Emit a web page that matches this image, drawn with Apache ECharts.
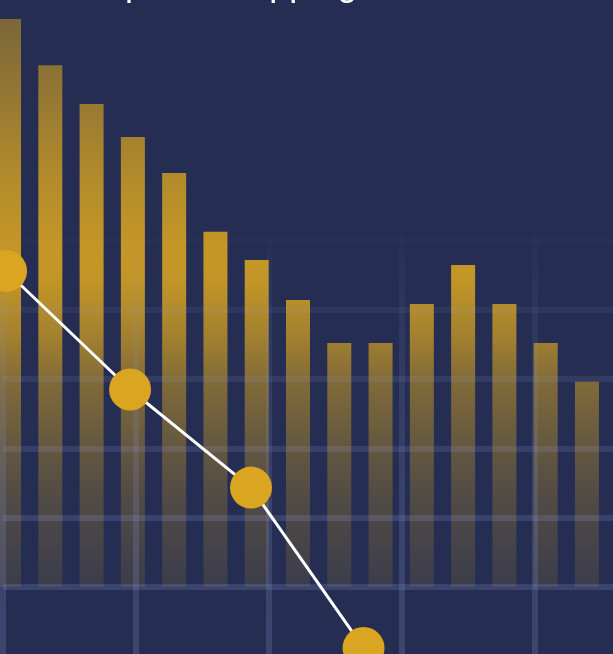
<!DOCTYPE html>
<html>
<head>
<meta charset="utf-8">
<script src="https://cdn.jsdelivr.net/npm/echarts@6/dist/echarts.min.js"></script>
<style>
html,body{margin:0;padding:0;background:#252e52;overflow:hidden;width:613px;height:654px;position:relative;}
#chart{position:absolute;left:-60px;top:-80px;width:760px;height:800px;}
</style>
</head>
<body>
<div id="chart"></div>
<script>
// ---- data ----
var titleText = 'Top 10 Shopping Items';
var categories = ['Item 1','Item 2','Item 3','Item 4','Item 5','Item 6','Item 7','Item 8','Item 9','Item 10','Item 11','Item 12','Item 13','Item 14','Item 15'];
var barValues = [163.9, 150.6, 139.4, 129.9, 119.5, 102.5, 94.4, 82.8, 70.4, 70.4, 81.7, 92.9, 81.7, 70.4, 59.2];
var lineX = [0.23, 9.56, 18.66, 27.13];
var lineY = [91.2, 57.0, 28.7, -17.6];

// canvas is offset by (60, 80) relative to the visible page
var gold = '218,165,32';
function g(a){ return 'rgba(' + gold + ',' + a + ')'; }
var barGradient = new echarts.graphic.LinearGradient(0, 80, 0, 670, [
  {offset: 0.00, color: g(0.42)},
  {offset: 0.035, color: g(0.48)},
  {offset: 0.11, color: g(0.56)},
  {offset: 0.18, color: g(0.64)},
  {offset: 0.30, color: g(0.78)},
  {offset: 0.42, color: g(0.88)},
  {offset: 0.47, color: g(0.87)},
  {offset: 0.52, color: g(0.79)},
  {offset: 0.58, color: g(0.67)},
  {offset: 0.65, color: g(0.50)},
  {offset: 0.75, color: g(0.36)},
  {offset: 0.85, color: g(0.24)},
  {offset: 1.00, color: g(0.12)}
], true);
function p(a){ return 'rgba(140,150,210,' + a + ')'; }
var patternGradient = new echarts.graphic.LinearGradient(0, 80, 0, 734, [
  {offset: 0.00, color: p(0)},
  {offset: 0.34, color: p(0)},
  {offset: 0.47, color: p(0.08)},
  {offset: 0.58, color: p(0.13)},
  {offset: 0.69, color: p(0.17)},
  {offset: 0.80, color: p(0.20)},
  {offset: 1.00, color: p(0.22)}
], true);

var chart = echarts.init(document.getElementById('chart'));
chart.setOption({
  backgroundColor: '#252e52',
  animation: false,
  title: {
    text: titleText,
    left: 142,
    top: 42,
    textStyle: {color: '#ffffff', fontSize: 36, fontWeight: 'normal'}
  },
  grid: [
    {left: 48.4, right: 92.4, top: 43.3, bottom: 133},
    {left: 63, right: 32.5, top: 43.3, bottom: 63.7}
  ],
  xAxis: [
    {type: 'category', gridIndex: 0, data: categories, show: false},
    {type: 'value', gridIndex: 1, min: 0, max: 50, interval: 10, z: 3,
     axisLine: {show: false}, axisTick: {show: false}, axisLabel: {show: false},
     splitLine: {show: true, lineStyle: {width: 6, color: patternGradient}}}
  ],
  yAxis: [
    {type: 'value', gridIndex: 0, min: 0, max: 180, interval: 20, show: false},
    {type: 'value', gridIndex: 1, min: -20, max: 180, interval: 20, z: 3,
     axisLine: {show: false}, axisTick: {show: false}, axisLabel: {show: false},
     splitLine: {show: true, showMinLine: false, lineStyle: {width: 6, color: patternGradient}}}
  ],
  series: [
    {type: 'bar', xAxisIndex: 0, yAxisIndex: 0, data: barValues, barWidth: 24, z: 2,
     itemStyle: {color: barGradient}},
    {type: 'line', xAxisIndex: 1, yAxisIndex: 1, z: 5, clip: false,
     data: lineX.map(function(x, i){ return [x, lineY[i]]; }),
     symbol: 'circle', symbolSize: 42,
     lineStyle: {color: '#ffffff', width: 3},
     itemStyle: {color: '#DAA520'}}
  ]
});
</script>
</body>
</html>
